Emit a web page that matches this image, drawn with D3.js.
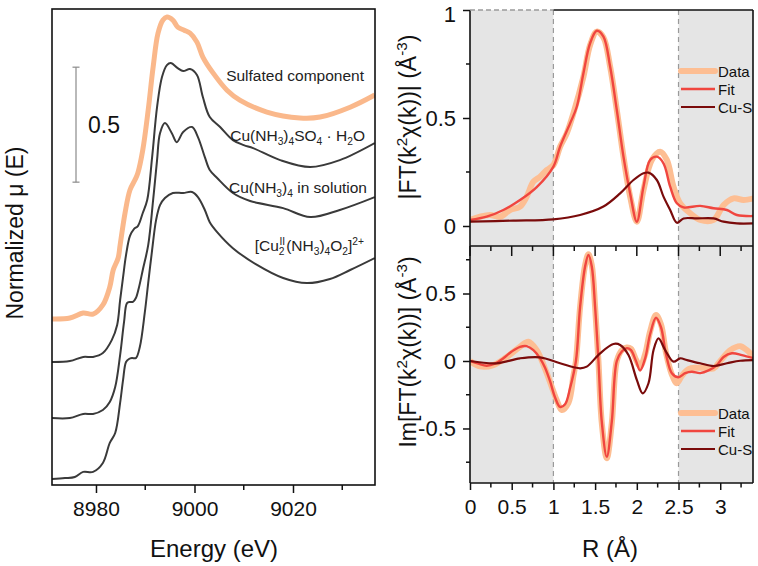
<!DOCTYPE html>
<html><head><meta charset="utf-8">
<script src="https://cdn.jsdelivr.net/npm/d3@7"></script>
<style>
html,body{margin:0;padding:0;background:#fff;}
svg{display:block;font-family:"Liberation Sans",Arial,Helvetica,sans-serif;}
</style></head><body>
<svg id="chart" width="758" height="566"></svg>
<script>
// ---------------- DATA ----------------
// Left panel: XANES, energy (eV) vs normalized mu (with vertical offsets as plotted)
const energyTicks = [8980, 9000, 9020];
const energyMinorTicks = [8990, 9010, 9030];
const energyDomain = [8971.07, 9036.65];
const muDomain = [0, 2.07];

const sulfated = [[8971.0,0.722],[8974.7,0.726],[8977.4,0.748],[8979.4,0.743],[8981.4,0.783],[8982.8,0.861],[8983.5,0.935],[8984.5,0.987],[8984.9,1.043],[8985.9,1.183],[8986.9,1.283],[8987.9,1.326],[8988.5,1.357],[8989.5,1.457],[8990.6,1.630],[8991.6,1.817],[8992.6,1.965],[8993.6,2.022],[8994.4,2.035],[8995.6,2.022],[8996.6,1.991],[8997.9,1.978],[8999.1,1.965],[9000.5,1.926],[9001.7,1.861],[9003.8,1.791],[9006.6,1.717],[9009.2,1.674],[9014.7,1.622],[9021.4,1.596],[9025.5,1.600],[9031.6,1.643],[9036.6,1.696]];
const cuSO4H2O = [[8971.0,0.535],[8974.7,0.539],[8977.4,0.557],[8979.4,0.557],[8981.4,0.574],[8983.2,0.630],[8984.3,0.696],[8984.9,0.804],[8985.5,0.904],[8986.1,1.0],[8986.9,1.083],[8987.7,1.113],[8988.5,1.126],[8989.5,1.183],[8990.4,1.239],[8991.4,1.426],[8992.4,1.643],[8993.4,1.774],[8994.4,1.826],[8995.2,1.835],[8996.6,1.813],[8997.7,1.800],[8999.1,1.809],[9000.5,1.783],[9001.7,1.687],[9003.1,1.600],[9005.2,1.557],[9007.8,1.500],[9010.0,1.478],[9011.9,1.465],[9017.4,1.413],[9023.5,1.383],[9029.5,1.413],[9036.6,1.487]];
const cuSolution = [[8971.0,0.291],[8974.7,0.291],[8977.4,0.309],[8979.4,0.309],[8981.4,0.326],[8982.8,0.361],[8983.9,0.426],[8984.9,0.565],[8985.7,0.709],[8986.3,0.791],[8986.9,0.796],[8987.5,0.796],[8988.1,0.813],[8988.7,0.857],[8989.5,0.935],[8990.6,1.043],[8991.6,1.239],[8992.4,1.413],[8993.0,1.530],[8994.0,1.574],[8995.4,1.530],[8996.4,1.491],[8997.7,1.535],[8999.5,1.557],[9000.7,1.513],[9002.1,1.426],[9003.1,1.370],[9004.6,1.335],[9007.8,1.270],[9011.3,1.235],[9018.0,1.204],[9023.5,1.165],[9029.5,1.196],[9036.6,1.252]];
const cu2O2 = [[8971.0,0.026],[8973.7,0.030],[8975.7,0.035],[8977.4,0.057],[8979.4,0.057],[8981.4,0.096],[8982.8,0.183],[8983.9,0.226],[8984.9,0.357],[8985.5,0.457],[8986.1,0.535],[8986.7,0.548],[8987.3,0.552],[8988.1,0.552],[8988.9,0.600],[8989.9,0.748],[8990.6,0.878],[8991.4,1.022],[8992.2,1.152],[8993.0,1.217],[8994.0,1.248],[8995.6,1.270],[8997.7,1.270],[8999.5,1.274],[9000.7,1.252],[9002.1,1.196],[9003.1,1.143],[9004.6,1.100],[9007.8,1.030],[9012.7,0.957],[9018.0,0.900],[9022.8,0.878],[9027.5,0.896],[9031.6,0.935],[9036.6,0.987]];
const scaleBar = [1.317, 1.817];
const scaleBarLabel = "0.5";

// Right panels: EXAFS FT, R (Å)
const rDomain = [0, 3.393];
const rTicks = [0, 0.5, 1, 1.5, 2, 2.5, 3];
const rMinorTicks = [0.25, 0.75, 1.25, 1.75, 2.25, 2.75, 3.25];
const fitWindow = [1.0, 2.5];
const magDomain = [-0.0926, 1.0];
const magTicks = [0, 0.5, 1];
const magMinorTicks = [0.25, 0.75];
const imDomain = [-0.904, 0.852];
const imTicks = [-0.5, 0, 0.5];
const imMinorTicks = [-0.75, -0.25, 0.25, 0.75];

const magData = [[0,0.028],[0.12,0.043],[0.24,0.051],[0.36,0.043],[0.48,0.074],[0.6,0.09],[0.68,0.136],[0.76,0.205],[0.84,0.228],[0.92,0.259],[1.0,0.282],[1.08,0.367],[1.16,0.429],[1.24,0.522],[1.36,0.691],[1.44,0.838],[1.52,0.9],[1.6,0.873],[1.68,0.738],[1.76,0.537],[1.84,0.321],[1.92,0.136],[2.0,0.02],[2.08,0.167],[2.18,0.306],[2.28,0.344],[2.36,0.306],[2.44,0.182],[2.52,0.105],[2.64,0.059],[2.76,0.028],[2.92,0.028],[3.04,0.097],[3.16,0.128],[3.28,0.12],[3.4,0.128]];
const magFit = [[0,0.028],[0.2,0.043],[0.4,0.074],[0.6,0.12],[0.8,0.18],[1.0,0.275],[1.08,0.367],[1.2,0.475],[1.28,0.552],[1.36,0.707],[1.44,0.846],[1.52,0.904],[1.6,0.877],[1.68,0.738],[1.76,0.537],[1.84,0.321],[1.92,0.151],[2.0,0.02],[2.08,0.182],[2.16,0.306],[2.24,0.321],[2.32,0.29],[2.4,0.182],[2.48,0.105],[2.56,0.086],[2.76,0.093],[2.92,0.082],[3.08,0.074],[3.2,0.051],[3.4,0.046]];
const magCuS = [[0,0.02],[0.52,0.025],[1.0,0.031],[1.32,0.051],[1.6,0.09],[1.8,0.151],[1.96,0.213],[2.08,0.244],[2.14,0.247],[2.24,0.213],[2.32,0.136],[2.4,0.074],[2.48,0.015],[2.56,0.035],[2.72,0.035],[2.92,0.035],[3.04,0.02],[3.2,0.012],[3.4,0.012]];

const imData = [[0,0],[0.12,-0.04],[0.28,-0.03],[0.44,0.03],[0.6,0.106],[0.7,0.143],[0.8,0.08],[0.92,-0.09],[1.04,-0.29],[1.1,-0.363],[1.18,-0.31],[1.24,-0.11],[1.27,0.0],[1.32,0.4],[1.38,0.71],[1.42,0.79],[1.46,0.71],[1.5,0.4],[1.54,0.0],[1.58,-0.46],[1.64,-0.72],[1.7,-0.46],[1.76,0.0],[1.82,0.08],[1.88,0.1],[1.93,0.09],[1.99,0.01],[2.04,-0.04],[2.1,0.05],[2.16,0.22],[2.23,0.34],[2.29,0.27],[2.35,0.06],[2.42,-0.1],[2.48,-0.165],[2.54,-0.11],[2.62,-0.06],[2.72,-0.05],[2.82,-0.05],[2.92,-0.055],[3.0,0.0],[3.12,0.08],[3.24,0.11],[3.32,0.08],[3.4,0.03]];
const imFit = [[0,0],[0.1,-0.02],[0.2,-0.035],[0.3,-0.02],[0.4,0.02],[0.5,0.07],[0.6,0.105],[0.68,0.11],[0.76,0.08],[0.84,0.02],[0.9,-0.05],[0.96,-0.15],[1.02,-0.27],[1.08,-0.34],[1.14,-0.32],[1.2,-0.2],[1.27,0.0],[1.32,0.4],[1.38,0.7],[1.42,0.785],[1.46,0.7],[1.5,0.4],[1.54,0.0],[1.58,-0.45],[1.64,-0.71],[1.7,-0.45],[1.76,0.0],[1.82,0.07],[1.88,0.095],[1.93,0.08],[1.99,0.0],[2.04,-0.07],[2.1,0.02],[2.16,0.2],[2.23,0.32],[2.29,0.25],[2.35,0.05],[2.42,-0.09],[2.5,-0.12],[2.58,-0.09],[2.66,-0.08],[2.76,-0.09],[2.86,-0.07],[2.96,-0.03],[3.04,0.03],[3.14,0.057],[3.26,0.044],[3.4,0.02]];
const imCuS = [[0,0],[0.32,-0.017],[0.6,0.02],[0.84,0.027],[1.08,-0.017],[1.32,-0.054],[1.4,-0.042],[1.56,0.057],[1.72,0.126],[1.8,0.119],[1.9,0.044],[2.0,-0.14],[2.07,-0.24],[2.14,-0.165],[2.2,0.08],[2.26,0.168],[2.34,0.081],[2.44,-0.005],[2.52,0.02],[2.6,0.007],[2.76,-0.017],[2.92,-0.037],[3.08,-0.017],[3.24,0.002],[3.4,0.007]];

const legendItems = ["Data", "Fit", "Cu-S"];

// ---------------- STYLE ----------------
const C = {
  sulf: "#FAB88B", dark: "#3A3A3A", data: "#FDBE93", fit: "#F0463F", cus: "#7A0B0B",
  shade: "#E5E5E5", dash: "#9A9A9A", axis: "#111"
};

const svg = d3.select("#chart");

function rich(sel, parts, base) {
  let cur = 0;
  parts.forEach(p => {
    const [t, k, dx] = p;
    const shift = k === "sub" ? base * 0.28 : k === "sup" ? -base * 0.4 : 0;
    const ts = sel.append("tspan").text(t)
      .attr("dy", shift - cur)
      .attr("font-size", k === "n" ? base : base * 0.66);
    if (dx) ts.attr("dx", dx);
    cur = shift;
  });
}

// ---------------- LEFT PANEL ----------------
const L = {x0: 52, x1: 375, y0: 9, y1: 485};
const xE = d3.scaleLinear().domain(energyDomain).range([L.x0, L.x1]);
const yMu = d3.scaleLinear().domain(muDomain).range([L.y1, L.y0]);
const lineE = d3.line().x(d => xE(d[0])).y(d => yMu(d[1])).curve(d3.curveCatmullRom.alpha(0.5));

const gL = svg.append("g");
gL.append("defs").append("clipPath").attr("id", "clipL").append("rect")
  .attr("x", L.x0).attr("y", L.y0).attr("width", L.x1 - L.x0).attr("height", L.y1 - L.y0);
const gLc = gL.append("g").attr("clip-path", "url(#clipL)");
[cu2O2, cuSolution, cuSO4H2O].forEach(s => {
  gLc.append("path").attr("d", lineE(s)).attr("fill", "none").attr("stroke", C.dark).attr("stroke-width", 2);
});
gLc.append("path").attr("d", lineE(sulfated)).attr("fill", "none").attr("stroke", C.sulf).attr("stroke-width", 5).attr("stroke-linejoin", "round");

// frame
gL.append("rect").attr("x", L.x0).attr("y", L.y0).attr("width", L.x1 - L.x0).attr("height", L.y1 - L.y0)
  .attr("fill", "none").attr("stroke", C.axis).attr("stroke-width", 1.6);

// bottom axis
const axE = d3.axisBottom(xE).tickValues(energyTicks).tickSize(8).tickFormat(d3.format("d"));
const gAxE = gL.append("g").attr("transform", `translate(0,${L.y1})`).call(axE);
gAxE.select(".domain").remove();
gAxE.selectAll("line").attr("stroke", C.axis).attr("stroke-width", 1.5);
gAxE.selectAll("text").attr("font-size", 21).attr("fill", "#111").attr("dy", "0.95em").attr("font-family", "Liberation Sans, Arial, sans-serif");
gL.append("g").selectAll("line").data(energyMinorTicks).join("line")
  .attr("x1", d => xE(d)).attr("x2", d => xE(d)).attr("y1", L.y1).attr("y2", L.y1 + 5)
  .attr("stroke", C.axis).attr("stroke-width", 1.5);

// scale bar
const sbX = 76;
gL.append("line").attr("x1", sbX).attr("x2", sbX).attr("y1", yMu(scaleBar[0])).attr("y2", yMu(scaleBar[1])).attr("stroke", "#8a8a8a").attr("stroke-width", 1.2);
scaleBar.forEach(v => gL.append("line").attr("x1", sbX - 3.5).attr("x2", sbX + 3.5).attr("y1", yMu(v)).attr("y2", yMu(v)).attr("stroke", "#8a8a8a").attr("stroke-width", 1.2));
gL.append("text").attr("x", 88).attr("y", yMu((scaleBar[0] + scaleBar[1]) / 2) + 8).attr("font-size", 23).attr("fill", "#111").text(scaleBarLabel);

// labels
const labFS = 15.5;
const lab1 = gL.append("text").attr("x", 364).attr("y", 81).attr("text-anchor", "end").attr("fill", "#222");
rich(lab1, [["Sulfated component", "n"]], labFS);
const lab2 = gL.append("text").attr("x", 365).attr("y", 141).attr("text-anchor", "end").attr("fill", "#222");
rich(lab2, [["Cu(NH", "n"], ["3", "sub"], [")", "n"], ["4", "sub"], ["SO", "n"], ["4", "sub"], [" · H", "n"], ["2", "sub"], ["O", "n"]], labFS);
const lab3 = gL.append("text").attr("x", 367).attr("y", 193).attr("text-anchor", "end").attr("fill", "#222");
rich(lab3, [["Cu(NH", "n"], ["3", "sub"], [")", "n"], ["4", "sub"], [" in solution", "n"]], labFS);
const lab4 = gL.append("text").attr("x", 364).attr("y", 251).attr("text-anchor", "end").attr("fill", "#222");
rich(lab4, [["[Cu", "n"], ["2", "sub"], ["II", "sup", -5], ["(NH", "n", 1], ["3", "sub"], [")", "n"], ["4", "sub"], ["O", "n"], ["2", "sub"], ["]", "n"], ["2+", "sup"]], labFS);

// axis titles
svg.append("text").attr("transform", "translate(23,233) rotate(-90)").attr("text-anchor", "middle")
  .attr("font-size", 23).attr("fill", "#111").text("Normalized μ (E)");
svg.append("text").attr("x", 214).attr("y", 557).attr("text-anchor", "middle").attr("font-size", 24).attr("fill", "#111").text("Energy (eV)");

// ---------------- RIGHT PANELS ----------------
const R = {x0: 470, x1: 753};
const T = {y0: 10, y1: 246};
const B = {y0: 246, y1: 483};
const xR = d3.scaleLinear().domain(rDomain).range([R.x0, R.x1]);
const yMag = d3.scaleLinear().domain(magDomain).range([T.y1, T.y0]);
const yIm = d3.scaleLinear().domain(imDomain).range([B.y1, B.y0]);

function panel(y, yr, dData, dFit, dCuS, id) {
  const g = svg.append("g");
  g.append("defs").append("clipPath").attr("id", id).append("rect")
    .attr("x", R.x0).attr("y", yr.y0).attr("width", R.x1 - R.x0).attr("height", yr.y1 - yr.y0);
  g.append("rect").attr("x", xR(rDomain[0])).attr("y", yr.y0).attr("width", xR(fitWindow[0]) - xR(rDomain[0])).attr("height", yr.y1 - yr.y0).attr("fill", C.shade);
  g.append("rect").attr("x", xR(fitWindow[1])).attr("y", yr.y0).attr("width", xR(rDomain[1]) - xR(fitWindow[1])).attr("height", yr.y1 - yr.y0).attr("fill", C.shade);
  fitWindow.forEach(w => g.append("line").attr("x1", xR(w)).attr("x2", xR(w)).attr("y1", yr.y0).attr("y2", yr.y1)
    .attr("stroke", C.dash).attr("stroke-width", 1.2).attr("stroke-dasharray", "5,4"));
  const line = d3.line().x(d => xR(d[0])).y(d => y(d[1])).curve(d3.curveCatmullRom.alpha(0.5));
  const gc = g.append("g").attr("clip-path", `url(#${id})`);
  gc.append("path").attr("d", line(dData)).attr("fill", "none").attr("stroke", C.data).attr("stroke-width", 6).attr("stroke-linejoin", "round");
  gc.append("path").attr("d", line(dFit)).attr("fill", "none").attr("stroke", C.fit).attr("stroke-width", 2.4);
  gc.append("path").attr("d", line(dCuS)).attr("fill", "none").attr("stroke", C.cus).attr("stroke-width", 2.2);
  return g;
}

const gT = panel(yMag, T, magData, magFit, magCuS, "clipT");
const gB = panel(yIm, B, imData, imFit, imCuS, "clipB");

function yAxis(g, y, ticks, minor, fmt) {
  const ax = d3.axisLeft(y).tickValues(ticks).tickSize(7).tickPadding(7).tickFormat(fmt);
  const ga = g.append("g").attr("transform", `translate(${R.x0},0)`).call(ax);
  ga.select(".domain").remove();
  ga.selectAll("line").attr("stroke", C.axis).attr("stroke-width", 1.5);
  ga.selectAll("text").attr("font-size", 22).attr("fill", "#111").attr("font-family", "Liberation Sans, Arial, sans-serif")
    .attr("dy", d => (y(d) < 20 ? "0.5em" : "0.32em"));
  g.append("g").selectAll("line").data(minor).join("line")
    .attr("x1", R.x0 - 4).attr("x2", R.x0).attr("y1", d => y(d)).attr("y2", d => y(d))
    .attr("stroke", C.axis).attr("stroke-width", 1.5);
}
const fmtTick = d => (d === 0 ? "0" : d === 1 ? "1" : (d < 0 ? "-" : "") + String(Math.abs(d)));
yAxis(gT, yMag, magTicks, magMinorTicks, fmtTick);
yAxis(gB, yIm, imTicks, imMinorTicks, fmtTick);

// frames
const fr = svg.append("g").attr("stroke", C.axis).attr("stroke-width", 1.6);
fr.append("line").attr("x1", R.x0).attr("x2", R.x0).attr("y1", T.y0).attr("y2", B.y1);
fr.append("line").attr("x1", R.x1).attr("x2", R.x1).attr("y1", T.y0).attr("y2", B.y1);
fr.append("line").attr("x1", R.x0).attr("x2", R.x1).attr("y1", T.y1).attr("y2", T.y1);
fr.append("line").attr("x1", R.x0).attr("x2", R.x1).attr("y1", B.y1).attr("y2", B.y1);
fr.append("line").attr("x1", xR(fitWindow[0])).attr("x2", R.x1).attr("y1", T.y0).attr("y2", T.y0);
svg.append("line").attr("x1", R.x0).attr("x2", xR(fitWindow[0])).attr("y1", T.y0).attr("y2", T.y0)
  .attr("stroke", C.dash).attr("stroke-width", 1.4).attr("stroke-dasharray", "5,3");

// x ticks on divider (downward) and bottom axis
const gx = svg.append("g").attr("stroke", C.axis).attr("stroke-width", 1.5);
gx.selectAll(".mj").data(rTicks).join("line").attr("x1", d => xR(d)).attr("x2", d => xR(d)).attr("y1", T.y1).attr("y2", T.y1 + 10);
gx.selectAll(".mn").data(rMinorTicks).join("line").attr("x1", d => xR(d)).attr("x2", d => xR(d)).attr("y1", T.y1).attr("y2", T.y1 + 5);
const axR = d3.axisBottom(xR).tickValues(rTicks).tickSize(7).tickPadding(5).tickFormat(d => String(d));
const gAxR = svg.append("g").attr("transform", `translate(0,${B.y1})`).call(axR);
gAxR.select(".domain").remove();
gAxR.selectAll("line").attr("stroke", C.axis).attr("stroke-width", 1.5);
gAxR.selectAll("text").attr("font-size", 21).attr("fill", "#111").attr("dy", "0.9em").attr("font-family", "Liberation Sans, Arial, sans-serif");
svg.append("g").selectAll("line").data(rMinorTicks).join("line")
  .attr("x1", d => xR(d)).attr("x2", d => xR(d)).attr("y1", B.y1).attr("y2", B.y1 + 4.5)
  .attr("stroke", C.axis).attr("stroke-width", 1.5);

// legends
function legend(y0) {
  const cols = [C.data, C.fit, C.cus];
  const widths = [6, 2.4, 2.2];
  legendItems.forEach((t, i) => {
    const y = y0 + i * 18;
    svg.append("line").attr("x1", 681).attr("x2", 715).attr("y1", y).attr("y2", y)
      .attr("stroke", cols[i]).attr("stroke-width", widths[i]).attr("stroke-linecap", i === 0 ? "round" : "butt");
    svg.append("text").attr("x", 718).attr("y", y + 5.5).attr("font-size", 15).attr("fill", "#111").text(t);
  });
}
legend(71);
legend(413);

// axis titles right
const t1 = svg.append("text").attr("transform", "translate(416,117) rotate(-90)").attr("text-anchor", "middle").attr("fill", "#111");
rich(t1, [["|FT(k", "n"], ["2", "sup"], ["χ(k))| (Å", "n"], ["-3", "sup"], [")", "n"]], 23);
const t2 = svg.append("text").attr("transform", "translate(416,352) rotate(-90)").attr("text-anchor", "middle").attr("fill", "#111");
rich(t2, [["Im[FT(k", "n"], ["2", "sup"], ["χ(k))] (Å", "n"], ["-3", "sup"], [")", "n"]], 23);
svg.append("text").attr("x", 610).attr("y", 557).attr("text-anchor", "middle").attr("font-size", 24).attr("fill", "#111").text("R (Å)");
</script>
</body></html>
